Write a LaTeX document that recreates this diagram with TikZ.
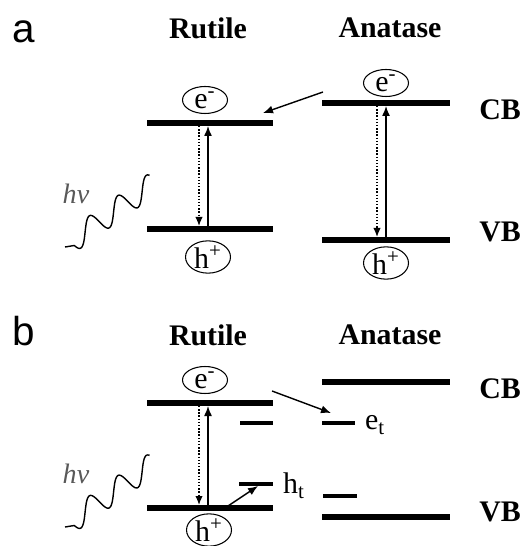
\documentclass[tikz,border=0pt]{standalone}
\usepackage{fontspec}
\setmainfont{Liberation Serif}
\newfontfamily\panelfont{Liberation Sans}
\usetikzlibrary{arrows.meta,positioning,calc,shapes.geometric}
\tikzset{
    band/.style={line width=3pt},
    thickband/.style={line width=3.6pt},
    trap/.style={line width=2pt},
    carrier/.style={draw,ellipse,semithick,inner sep=0pt,minimum width=9mm,minimum height=5.4mm,font=\fontsize{17}{17}\selectfont},
    title/.style={font=\fontsize{17}{17}\selectfont\bfseries},
    panel/.style={font=\fontsize{23}{23}\selectfont\panelfont},
    level/.style={font=\fontsize{17}{17}\selectfont},
    photonlabel/.style={font=\fontsize{16}{16}\selectfont\itshape,text=black!65},
    arrow/.style={-{Latex[length=2mm,width=1.6mm]},thick},
    relax/.style={-{Latex[length=1.8mm,width=1.5mm]},densely dotted,thick},
    photon/.style={thick,smooth,samples=90,line join=round}
}
\begin{document}
\begin{tikzpicture}[x=0.02cm,y=-0.02cm]
    \useasboundingbox (0,0) rectangle (523,546);
    % panel a
    \node[panel] (pa) at (24,32) {a};
    \node[title] (rut1) at (208,28) {Rutile};
    \node[title] (ana1) at (390,28) {Anatase};
    \node[title] (cb1) at (500,110) {CB};
    \node[title] (vb1) at (500,232) {VB};
    \coordinate (rcb1w) at (147,123); \coordinate (rcb1e) at (273,123);
    \coordinate (rvb1w) at (147,229); \coordinate (rvb1e) at (273,229);
    \coordinate (acb1w) at (322,103); \coordinate (acb1e) at (450,103);
    \coordinate (avb1w) at (322,240); \coordinate (avb1e) at (450,240);
    \draw[band] (rcb1w) -- (rcb1e);
    \draw[thickband] (rvb1w) -- (rvb1e);
    \draw[band] (acb1w) -- (acb1e);
    \draw[thickband] (avb1w) -- (avb1e);
    \node[carrier] (re1) at (205,100) {e\textsuperscript{-}};
    \node[carrier] (rh1) at (208,257) {h\textsuperscript{+}};
    \node[carrier] (ae1) at (386,83) {e\textsuperscript{-}};
    \node[carrier] (ah1) at (386,263) {h\textsuperscript{+}};
    \coordinate (rup1a) at (208,227); \coordinate (rup1b) at (208,126);
    \coordinate (rdn1a) at (199,126); \coordinate (rdn1b) at (199,226);
    \coordinate (aup1a) at (386,238); \coordinate (aup1b) at (386,106);
    \coordinate (adn1a) at (377,106); \coordinate (adn1b) at (377,237);
    \draw[arrow] (rup1a) -- (rup1b);
    \draw[relax] (rdn1a) -- (rdn1b);
    \draw[arrow] (aup1a) -- (aup1b);
    \draw[relax] (adn1a) -- (adn1b);
    \coordinate (tr1a) at (323,92); \coordinate (tr1b) at (263,113);
    \draw[arrow] (tr1a) -- (tr1b);
    % light, wavy
    \draw[photon] (65,247) -- plot[domain=73:152] ({\x+3*cos(12.63*(\x-78))},{232-0.71*(\x-85)+11*cos(12.63*(\x-78))});
    \node[photonlabel] (hv1) at (76,194) {hv};

    % panel b
    \node[panel] (pb) at (24,331) {b};
    \node[title] (rut2) at (208,335) {Rutile};
    \node[title] (ana2) at (390,335) {Anatase};
    \node[title] (cb2) at (500,389) {CB};
    \node[title] (vb2) at (500,512) {VB};
    \coordinate (rcb2w) at (147,403); \coordinate (rcb2e) at (273,403);
    \coordinate (rvb2w) at (147,508); \coordinate (rvb2e) at (273,508);
    \coordinate (acb2w) at (322,382); \coordinate (acb2e) at (450,382);
    \coordinate (avb2w) at (322,517); \coordinate (avb2e) at (450,517);
    \draw[thickband] (rcb2w) -- (rcb2e);
    \draw[band] (rvb2w) -- (rvb2e);
    \draw[band] (acb2w) -- (acb2e);
    \draw[thickband] (avb2w) -- (avb2e);
    % trap states
    \coordinate (ret2w) at (240,423); \coordinate (ret2e) at (273,423);
    \coordinate (rht2w) at (239,484); \coordinate (rht2e) at (273,484);
    \coordinate (aet2w) at (322,423); \coordinate (aet2e) at (355,423);
    \coordinate (aht2w) at (323,496); \coordinate (aht2e) at (357,496);
    \draw[trap] (ret2w) -- (ret2e);
    \draw[trap] (rht2w) -- (rht2e);
    \draw[trap] (aet2w) -- (aet2e);
    \draw[trap] (aht2w) -- (aht2e);
    \node[level,anchor=west] (et) at (359,425) {e\textsubscript{t}};
    \node[level,anchor=west] (ht) at (277,486) {h\textsubscript{t}};
    \node[carrier] (re2) at (205,380) {e\textsuperscript{-}};
    \node[carrier] (rh2) at (209,530) {h\textsuperscript{+}};
    \coordinate (rup2a) at (208,506); \coordinate (rup2b) at (208,406);
    \coordinate (rdn2a) at (199,406); \coordinate (rdn2b) at (199,505);
    \draw[arrow] (rup2a) -- (rup2b);
    \draw[relax] (rdn2a) -- (rdn2b);
    \coordinate (tr2a) at (272,391); \coordinate (tr2b) at (331,413);
    \draw[arrow] (tr2a) -- (tr2b);
    \coordinate (th2a) at (228,506); \coordinate (th2b) at (258,486);
    \draw[arrow] (th2a) -- (th2b);
    \draw[photon] (65,527) -- plot[domain=73:152] ({\x+3*cos(12.63*(\x-78))},{512-0.71*(\x-85)+11*cos(12.63*(\x-78))});
    \node[photonlabel] (hv2) at (76,474) {hv};
\end{tikzpicture}
\end{document}
